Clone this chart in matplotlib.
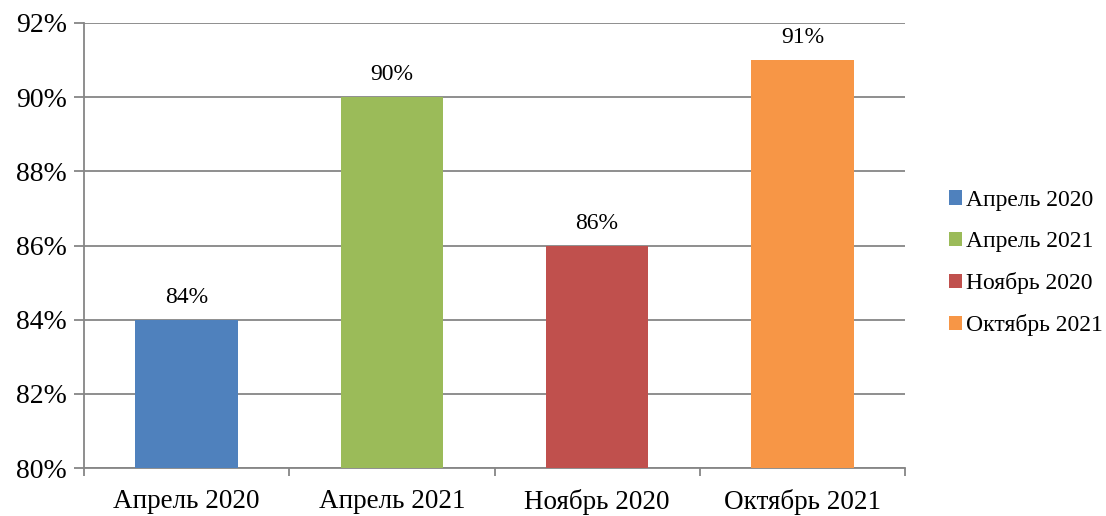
import matplotlib
matplotlib.use('Agg')
import matplotlib.pyplot as plt
import numpy as np
from matplotlib.patches import Patch

categories = ['Апрель 2020', 'Апрель 2021', 'Ноябрь 2020', 'Октябрь 2021']
values = [84, 90, 86, 91]
colors = ['#4F81BD', '#9BBB59', '#C0504D', '#F79646']
yticks = [80, 82, 84, 86, 88, 90, 92]

plt.rcParams['font.family'] = ['Liberation Serif', 'DejaVu Serif']
plt.rcParams['font.size'] = 17

fig = plt.figure(figsize=(11.06, 5.16), dpi=100)
ax = fig.add_axes([84 / 1106, 48 / 516, 821 / 1106, 445 / 516])

x = np.arange(len(categories))
ax.bar(x, values, width=0.5, color=colors, zorder=3)
for xi, v in zip(x, values):
    ax.text(xi, v + 0.32, f'{v}%', ha='center', va='bottom', fontsize=17)

grid_c = '#868686'
ax.set_ylim(80, 92)
ax.set_xlim(-0.5, len(categories) - 0.5)
ax.set_yticks(yticks)
ax.set_yticklabels([f'{t}%' for t in yticks], fontsize=20)
ax.yaxis.grid(True, color=grid_c, linewidth=1.3, zorder=0)
ax.set_xticks(x)
ax.set_xticklabels(categories, fontsize=19.5)
ax.set_xticks(np.arange(len(categories) + 1) - 0.5, minor=True)
ax.tick_params(axis='x', which='major', length=0, pad=15)
ax.tick_params(axis='x', which='minor', length=6, width=1.3, color=grid_c, direction='out')
ax.tick_params(axis='y', length=7, width=1.3, color=grid_c, direction='out', pad=5.5)

for s in ['top', 'right']:
    ax.spines[s].set_visible(False)
for s in ['left', 'bottom']:
    ax.spines[s].set_color(grid_c)
    ax.spines[s].set_linewidth(1.3)

handles = [Patch(facecolor=c, label=l) for c, l in zip(colors, categories)]
fig.legend(handles=handles, loc='center left', bbox_to_anchor=(928 / 1106, 253 / 516),
           frameon=False, fontsize=17, handlelength=0.55, handleheight=0.55,
           handletextpad=0.15, labelspacing=0.85)

fig.savefig('out.png', dpi=100)
